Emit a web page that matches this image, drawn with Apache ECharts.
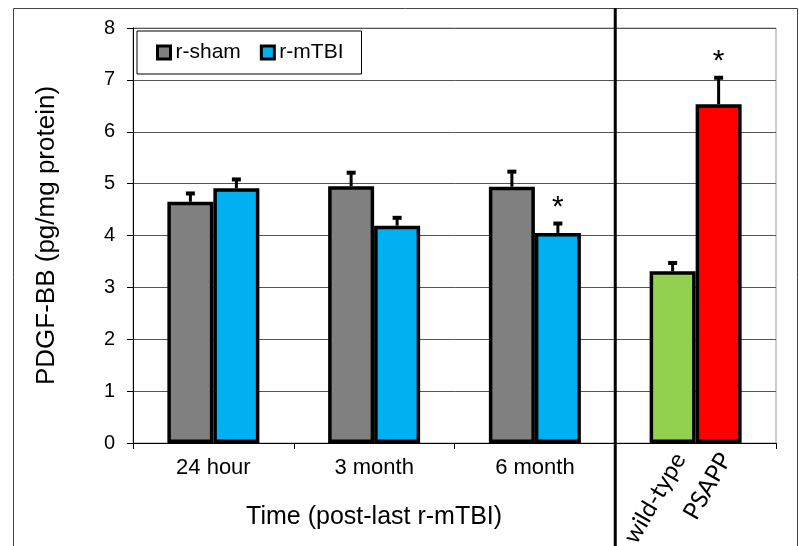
<!DOCTYPE html>
<html>
<head>
<meta charset="utf-8">
<script src="https://cdn.jsdelivr.net/npm/echarts@6/dist/echarts.min.js"></script>
<style>
  html, body { margin: 0; padding: 0; background: #fff; }
  #chart { width: 799px; height: 546px; }
</style>
</head>
<body>
<div id="chart"></div>
<script>
// values
const categories = ['24 hour', '3 month', '6 month', '']
const seriesNames = ['r-sham', 'r-mTBI']
const shamValues = [4.65, 4.95, 4.94, 3.31]
const tbiValues = [4.91, 4.19, 4.05, 6.53]
const shamErrTop = [4.83, 5.23, 5.25, 3.49]
const tbiErrTop = [5.10, 4.36, 4.25, 7.06]
const shamStars = [0, 0, 0, 0]
const tbiStars = [0, 0, 1, 1]
// last group is a separate comparison with its own colours and labels
const groupLabels = ['wild-type', 'PSAPP']
const groupColors = ['#92D050', '#FF0000']
const yTicks = { min: 0, max: 8, interval: 1 }

const FONT = '"Liberation Sans", Arial, sans-serif'
const BAR_W = 46

const chart = echarts.init(document.getElementById('chart'))

function barData(values, colorIdx) {
  return values.map((v, i) => {
    if (i === categories.length - 1) {
      return { value: v, itemStyle: { color: groupColors[colorIdx] } }
    }
    return v
  })
}

function errData(values, tops, stars) {
  return values.map((v, i) => [i, v, tops[i], stars[i]])
}

function makeErrRender(offsetSign, labelIdx) {
  return function (params, api) {
    const idx = api.value(0)
    const base = api.coord([idx, api.value(1)])
    const top = api.coord([idx, api.value(2)])
    const x = base[0] + offsetSign * BAR_W / 2
    const children = [
      {
        type: 'line',
        shape: { x1: x, y1: base[1], x2: x, y2: top[1] },
        style: { stroke: '#000', lineWidth: 3 }
      },
      {
        type: 'rect',
        shape: { x: x - 4.5, y: top[1] - 1, width: 9, height: 4 },
        style: { fill: '#000' }
      }
    ]
    if (api.value(3)) {
      children.push({
        type: 'text',
        x: x,
        y: top[1] - 15,
        style: { text: '*', fill: '#000', font: '30px ' + FONT, align: 'center', verticalAlign: 'middle' }
      })
    }
    if (idx === categories.length - 1) {
      const axisY = api.coord([idx, 0])[1]
      children.push({
        type: 'text',
        x: x + 7,
        y: axisY + 12,
        rotation: Math.PI / 3,
        style: { text: groupLabels[labelIdx], fill: '#000', font: '24px Lato, "Open Sans", sans-serif', align: 'right', verticalAlign: 'middle' }
      })
    }
    return { type: 'group', children: children }
  }
}

chart.setOption({
  animation: false,
  backgroundColor: '#fff',
  grid: {
    left: 133,
    right: 23,
    top: 28,
    bottom: 103,
    show: true,
    borderColor: '#999',
    borderWidth: 1
  },
  legend: {
    data: seriesNames,
    left: 137,
    top: 31,
    borderColor: '#000',
    borderWidth: 1,
    padding: [11, 18, 11, 19],
    itemWidth: 13,
    itemHeight: 13,
    itemGap: 19,
    icon: 'rect',
    itemStyle: { borderColor: '#000', borderWidth: 3 },
    textStyle: { fontSize: 21, fontFamily: FONT, color: '#000' }
  },
  xAxis: {
    type: 'category',
    data: categories,
    axisLine: { lineStyle: { color: '#000', width: 1 } },
    axisTick: { show: true, length: 6, lineStyle: { color: '#000' } },
    axisLabel: { fontSize: 22, fontFamily: FONT, color: '#000', margin: 14 },
    splitLine: { show: false }
  },
  yAxis: {
    type: 'value',
    min: yTicks.min,
    max: yTicks.max,
    interval: yTicks.interval,
    name: 'PDGF-BB (pg/mg protein)',
    nameLocation: 'middle',
    nameGap: 73,
    nameTextStyle: { fontSize: 26, fontFamily: FONT, color: '#000' },
    axisLine: { show: true, lineStyle: { color: '#000', width: 1 } },
    axisTick: { show: true, length: 6, lineStyle: { color: '#000' } },
    axisLabel: { fontSize: 20, fontFamily: FONT, color: '#000', margin: 18 },
    splitLine: { show: true, lineStyle: { color: '#555', width: 1 } }
  },
  series: [
    {
      name: seriesNames[0],
      type: 'bar',
      barWidth: BAR_W,
      barGap: '0%',
      itemStyle: { color: '#808080', borderColor: '#000', borderWidth: 3.5 },
      data: barData(shamValues, 0)
    },
    {
      name: seriesNames[1],
      type: 'bar',
      barWidth: BAR_W,
      barGap: '0%',
      itemStyle: { color: '#00B0F0', borderColor: '#000', borderWidth: 3.5 },
      data: barData(tbiValues, 1)
    },
    {
      type: 'custom',
      z: 5,
      clip: false,
      renderItem: makeErrRender(-1, 0),
      data: errData(shamValues, shamErrTop, shamStars)
    },
    {
      type: 'custom',
      z: 5,
      clip: false,
      renderItem: makeErrRender(1, 1),
      data: errData(tbiValues, tbiErrTop, tbiStars)
    }
  ]
})

// separator between time course and genotype groups, plus frame and x title
const c2 = chart.convertToPixel({ xAxisIndex: 0 }, 2)
const c3 = chart.convertToPixel({ xAxisIndex: 0 }, 3)
const sepX = (c2 + c3) / 2
const leftX = chart.convertToPixel({ xAxisIndex: 0 }, 0) - (c3 - c2) / 2

chart.setOption({
  graphic: [
    {
      type: 'rect',
      shape: { x: 13.5, y: 8.5, width: 784, height: 600 },
      style: { fill: null, stroke: '#444', lineWidth: 1 },
      silent: true
    },
    {
      type: 'line',
      shape: { x1: sepX, y1: 8, x2: sepX, y2: 546 },
      style: { stroke: '#000', lineWidth: 3 },
      z: 10
    },
    {
      type: 'text',
      x: (leftX + sepX) / 2,
      y: 517,
      style: { text: 'Time (post-last r-mTBI)', font: '25px ' + FONT, fill: '#000', align: 'center', verticalAlign: 'middle' }
    }
  ]
})
</script>
</body>
</html>
